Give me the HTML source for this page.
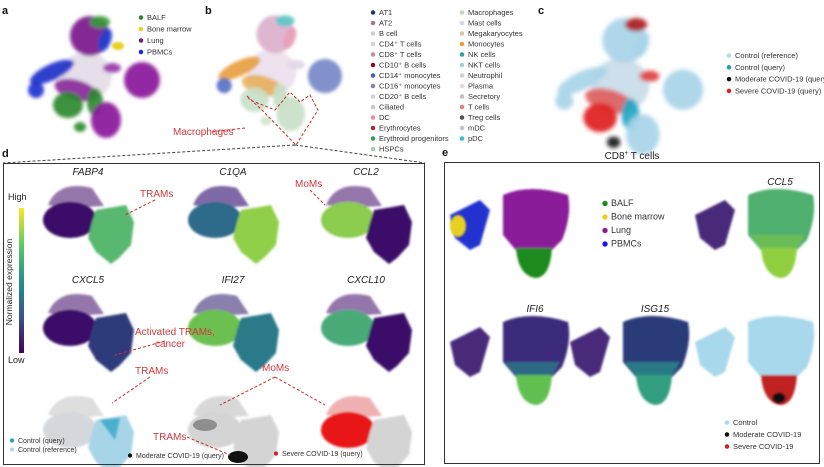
<!DOCTYPE html>
<html><head><meta charset="utf-8"><style>
html,body{margin:0;padding:0;background:#fff;}
svg{display:block;font-family:"Liberation Sans",sans-serif;}
.g{font-size:10px;font-style:italic;fill:#222}
.r{font-size:10px;fill:#d2383c}
.p{font-size:11px;font-weight:bold;fill:#111}
</style></head><body>
<svg id="fig" width="824" height="467" viewBox="0 0 824 467">
<defs>
<filter id="bl" x="-20%" y="-20%" width="140%" height="140%"><feGaussianBlur stdDeviation="1.8"/></filter>
<filter id="bl2" x="-20%" y="-20%" width="140%" height="140%"><feGaussianBlur stdDeviation="1"/></filter>
<linearGradient id="vir" x1="0" y1="1" x2="0" y2="0">
<stop offset="0" stop-color="#440154"/><stop offset="0.25" stop-color="#3b528b"/><stop offset="0.5" stop-color="#21918c"/><stop offset="0.75" stop-color="#5ec962"/><stop offset="1" stop-color="#fde725"/></linearGradient>
</defs>
<g id="root"></g>
<text class="p" x="2" y="14">a</text>
<text class="p" x="205" y="14">b</text>
<text class="p" x="538" y="14">c</text>
<text class="p" x="2" y="157">d</text>
<text class="p" x="442" y="156">e</text>
<text x="632" y="159" font-size="10" fill="#222" text-anchor="middle">CD8<tspan font-size="6" dy="-4">+</tspan><tspan dy="4"> T cells</tspan></text>
<rect x="3.5" y="163.5" width="421" height="301" fill="none" stroke="#333" stroke-width="1"/>
<rect x="444.5" y="162.5" width="375" height="301" fill="none" stroke="#333" stroke-width="1"/>
<path d="M295,145 L3,163 M295,145 L425,163" stroke="#444" stroke-dasharray="3,2" fill="none"/>
<text class="r" x="173" y="135" font-size="11">Macrophages</text>
<rect x="19" y="208" width="5" height="145" fill="url(#vir)"/>
<text x="8" y="200" font-size="9" fill="#222">High</text>
<text x="8" y="363" font-size="9" fill="#222">Low</text>
<text transform="translate(12,282) rotate(-90)" font-size="8.5" fill="#222" text-anchor="middle">Normalized expression</text>
</svg>
<script>
const NS="http://www.w3.org/2000/svg";
const root=document.getElementById('root');
function el(tag,attrs,parent){const e=document.createElementNS(NS,tag);for(const k in attrs)e.setAttribute(k,attrs[k]);(parent||root).appendChild(e);return e;}

const legendA=["BALF","Bone marrow","Lung","PBMCs"];
const legendAColors=["#2a8a2a","#e8d020","#7a1a8a","#1a2ad0"];
const legendB1=["AT1","AT2","B cell","CD4⁺ T cells","CD8⁺ T cells","CD10⁺ B cells","CD14⁺ monocytes","CD16⁺ monocytes","CD20⁺ B cells","Ciliated","DC","Erythrocytes","Erythroid progenitors","HSPCs"];
const legendB1Colors=["#1e3a6a","#a07a90","#d8c8d8","#d8d0e0","#d08aa0","#7a1020","#4a60b0","#8a80b0","#d0d0e0","#c8c8c8","#e090a8","#a03040","#30a050","#a0d0b0"];
const legendB2=["Macrophages","Mast cells","Megakaryocytes","Monocytes","NK cells","NKT cells","Neutrophil","Plasma","Secretory","T cells","Treg cells","mDC","pDC"];
const legendB2Colors=["#c0d8c0","#d0d8e0","#d8c8a0","#e8a030","#30a0a0","#a0d0d0","#d0d0d0","#e8d8e0","#c0c0c0","#e08080","#505050","#c0c0d0","#30c0d0"];
const legendC=["Control (reference)","Control (query)","Moderate COVID-19 (query)","Severe COVID-19 (query)"];
const legendCColors=["#b8d8e8","#20a0b8","#111111","#e02020"];
const legendE=["BALF","Bone marrow","Lung","PBMCs"];
const legendEColors=["#1a8a1a","#e8d020","#8a1a9a","#1a1ae0"];
const legendE2=["Control","Moderate COVID-19","Severe COVID-19"];
const legendE2Colors=["#a8d8ec","#111111","#d02020"];

function legend(items,colors,x,y,dy,fs,name){
  items.forEach((s,i)=>{
    const c=el('circle',{cx:x,cy:y+i*dy-2.5,r:fs*0.3,fill:colors[i]});
    
    
    const t=el('text',{x:x+6,y:y+i*dy,'font-size':fs,fill:'#333'});
    t.textContent=s;
    
    
  });
}

// overview UMAP clusters [cx,cy,rx,ry,rotation]
const umapBlobs=[[86,76,26,24,0],[90,36,20,20,0],[52,72,24,8,-25],[36,90,8,8,0],[76,90,22,10,15],[68,105,15,13,0],[95,102,8,14,0],[106,120,15,18,0],[142,80,18,18,0],[112,68,9,5,0],[80,127,6,5,0],[100,22,10,6,0],[105,40,6,12,20]];
const colorsA=["#e4dce8","#7a1a8a","#2030c8","#2030d0","#8a2a9a","#2a8a2a","#2a8a2a","#8a1a9a","#8a1a9a","#9a3aaa","#2a8a2a","#3a9a3a","#2040d0"];
const colorsB=["#ece0ec","#dcb0cc","#e8a040","#5870c8","#e8b060","#c8e0c8","#c8e0c8","#c8e0c8","#7888c8","#e0d8e8","#d0e4d0","#60c8c8","#e8a0b8"];
const colorsC=["#c8dce8","#a8d4e8","#a8d4e8","#a8d4e8","#e06060","#e02020","#20a8c8","#a8d4e8","#a8d4e8","#e04040","#151515","#b02020","#a8d4e8"];
function umap(ox,oy,s,colors,name){
  const g=el('g',{transform:`translate(${ox},${oy}) scale(${s})`,filter:'url(#bl)'});
  
  
  umapBlobs.forEach((b,i)=>{
    const e=el('ellipse',{cx:b[0],cy:b[1],rx:b[2],ry:b[3],fill:colors[i],opacity:0.92,transform:`rotate(${b[4]} ${b[0]} ${b[1]})`},g);
    
    
  });
}
umap(0,0,1,colorsA,'umap-a');
el('ellipse',{cx:118,cy:46,rx:6,ry:4,fill:'#e8d020',filter:'url(#bl2)'});
umap(190,0,0.95,colorsB,'umap-b');
umap(524,0,1.12,colorsC,'umap-c');
el('path',{d:'M247,96 L262,110 L296,145 L318,110 L310,95 L300,102 L290,92 L275,110 L250,100 Z M245,128 L210,132',stroke:'#c03030','stroke-dasharray':'3,2',fill:'none'});

legend(legendA,legendAColors,141,20,11.5,7.5,'legend-a');
legend(legendB1,legendB1Colors,373,15,10.5,7.5,'legend-b');
legend(legendB2,legendB2Colors,462,15,10.5,7.5,'legend-b2');
legend(legendC,legendCColors,729,58,11.8,7.5,'legend-c');

const dTitles=["FABP4","C1QA","CCL2","CXCL5","IFI27","CXCL10"];
const dLeft=["#3a1068","#2e6a8a","#8ccc50","#3a1068","#6cc050","#4aaa78"];
const dRight=["#58b870","#90d048","#3a1068","#2e3a7a","#2a7a8a","#3a1068"];
const dTail=["#6a3a88","#4a2a80","#6a3a88","#6a3a88","#5a4a88","#6a3a88"];
const dCols=[0,145,278];
const dRows=[0,108,210];
function macro(ox,oy,cTail,cLeft,cRight,name){
  const g=el('g',{transform:`translate(${ox},${oy})`,filter:'url(#bl2)'});
  
  
  el('path',{d:'M48,205 Q58,180 92,188 L104,206 L70,208 Z',fill:cTail,opacity:0.7},g);
  el('ellipse',{cx:70,cy:220,rx:27,ry:18,fill:cLeft},g);
  el('path',{d:'M96,210 L126,205 L134,222 L131,245 L119,258 L111,264 L96,252 L88,238 L92,222 Z',fill:cRight},g);
}
dTitles.forEach((t,i)=>{
  const ox=dCols[i%3], oy=dRows[Math.floor(i/3)];
  macro(ox,oy,dTail[i],dLeft[i],dRight[i],'umap-'+t.toLowerCase());
  const tx=el('text',{x:ox+88,y:oy+175,class:'g','text-anchor':'middle'});
  tx.textContent=t;
  
  
});
macro(dCols[0],dRows[2],'#d0d0d0','#d4d8dc','#a8d4e8','umap-d-control');
el('path',{d:'M100,420 L120,418 L115,440 Z',fill:'#30a8c8',opacity:0.8,filter:'url(#bl2)'});
macro(dCols[1],dRows[2],'#c8c8c8','#d4d4d4','#d4d4d4','umap-d-moderate');
el('ellipse',{cx:238,cy:457,rx:10,ry:6,fill:'#111'});
el('ellipse',{cx:205,cy:425,rx:12,ry:6,fill:'#707070',opacity:0.7});
macro(dCols[2],dRows[2],'#e89090','#e81818','#d4d4d4','umap-d-severe');
const ann=[["TRAMs",140,197],["MoMs",295,187],["Activated TRAMs,",135,335],["cancer",155,347],["TRAMs",135,374],["MoMs",262,371],["TRAMs",153,440]];
ann.forEach(a=>{const t=el('text',{x:a[1],y:a[2],class:'r'});t.textContent=a[0];
  
  });
el('path',{d:'M155,200 L125,215 M310,190 L325,205 M165,341 L115,355 M150,377 L112,403 M275,377 L220,405 M275,377 L325,405 M187,437 L230,455',stroke:'#c03030','stroke-dasharray':'3,2',fill:'none'});
legend(["Control (query)","Control (reference)"],["#20a0b8","#b8d8e8"],12,443,9,7,'legend-d1');
legend(["Moderate COVID-19 (query)"],["#111"],130,458,9,7,'legend-d2');
legend(["Severe COVID-19 (query)"],["#d02020"],276,456,9,7,'legend-d3');

const eTitles=["","CCL5","IFI6","ISG15",""];
const eOff=[[0,0],[245,0],[0,127],[120,127],[245,127]];
const eSmall=["#2030d0","#4a2a7a","#4a2a7a","#4a2a7a","#a8d8ec"];
const eMain=["#8a1a9a","#50b070","#3a2a7a","#2a3a7a","#a8d8ec"];
const eMid=["#8a1a9a","#70c050","#2a7a8a","#2a8a8a","#a8d8ec"];
const eBottom=["#1a8a1a","#90d040","#60c050","#30a080","#c02020"];
function cd8(ox,oy,cs,cm,cmid,cb,name){
  const g=el('g',{transform:`translate(${ox},${oy})`,filter:'url(#bl2)'});
  
  
  el('path',{d:'M450,215 L480,200 L490,210 L480,245 L470,250 L455,238 Z',fill:cs},g);
  el('path',{d:'M503,195 Q530,183 568,195 Q572,215 562,240 L547,255 L520,255 L503,235 Z',fill:cm},g);
  el('path',{d:'M505,235 L560,235 L548,255 L520,255 Z',fill:cmid,opacity:0.8},g);
  el('path',{d:'M516,248 L552,248 Q550,278 535,278 Q518,275 516,248 Z',fill:cb},g);
}
eTitles.forEach((t,i)=>{
  cd8(eOff[i][0],eOff[i][1],eSmall[i],eMain[i],eMid[i],eBottom[i],'cd8-umap-'+i);
  if(t){const tx=el('text',{x:eOff[i][0]+535,y:eOff[i][1]+185,class:'g','text-anchor':'middle'});
    tx.textContent=t;
    
    }
});
el('ellipse',{cx:458,cy:226,rx:8,ry:11,fill:'#e8d020',filter:'url(#bl2)'});
el('ellipse',{cx:779,cy:398,rx:6,ry:5,fill:'#111',filter:'url(#bl2)'});
legend(legendE,legendEColors,605,206,13.5,9,'legend-e');
legend(legendE2,legendE2Colors,727,425,12,7.5,'legend-e2');
</script>
</body></html>
